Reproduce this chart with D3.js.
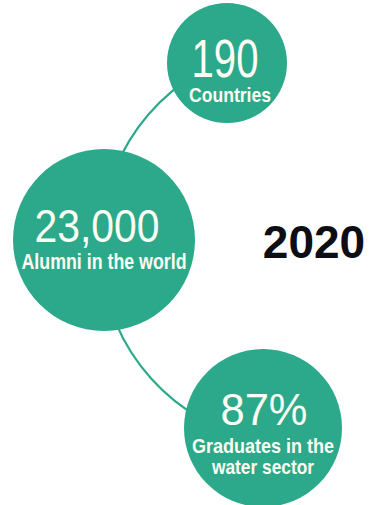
<!DOCTYPE html>
<html>
<head>
<meta charset="utf-8">
<script src="https://cdn.jsdelivr.net/npm/d3@7"></script>
<style>
  html, body { margin: 0; padding: 0; background: #fff; }
  svg { display: block; }
  .num { font-family: 'Liberation Sans', Arial, sans-serif; fill: #fdfdf3; }
  .lbl { font-family: 'Liberation Sans', Arial, sans-serif; font-weight: bold; fill: #fdfdf3; }
  .year { font-family: 'Liberation Sans', Arial, sans-serif; font-weight: bold; fill: #0d0d14; }
</style>
</head>
<body>
<script>
const W = 377, H = 505;

// data
const values = ['190', '23,000', '87%'];
const labels = [['Countries'], ['Alumni in the world'], ['Graduates in the', 'water sector']];
const year = '2020';

// layout of the bubbles (centre, radius, text sizing) - not data
const layout = [
    { x: 227, y: 63, r: 60, numSize: 54, numY: 14, numDx: -2, numLen: 67,
      lblSize: 21, lblY: 39, lblDx: 3, lblLen: [82] },
    { x: 104, y: 240, r: 91, numSize: 47, numY: 2, numDx: -7, numLen: 125,
      lblSize: 22, lblY: 29, lblDx: 0, lblLen: [165] },
    { x: 263, y: 428, r: 79, numSize: 45, numY: -3, numDx: 1, numLen: 87,
      lblSize: 21, lblY: 25, lblDx: 0, lblLen: [142, 102] }
];
const arcCentre = { x: 300, y: 245, r: 200 };
const teal = '#2ba98a';

const svg = d3.select('body').append('svg')
    .attr('width', W)
    .attr('height', H)
    .attr('viewBox', '0 0 ' + W + ' ' + H);

// connector arc running through the bubbles
const ang = d => Math.atan2(d.y - arcCentre.y, d.x - arcCentre.x);
const a0 = ang(layout[0]) + 2 * Math.PI,
    a1 = ang(layout[2]);
const p = d3.path();
p.arc(arcCentre.x, arcCentre.y, arcCentre.r, a0, a1, true);
svg.append('path')
    .attr('d', p.toString())
    .attr('fill', 'none')
    .attr('stroke', teal)
    .attr('stroke-width', 2.2);

const nodes = values.map((v, i) => ({ value: v, label: labels[i], ...layout[i] }));

const g = svg.selectAll('.node')
    .data(nodes)
    .enter().append('g')
    .attr('class', 'node')
    .attr('transform', d => 'translate(' + d.x + ',' + d.y + ')');

g.append('circle')
    .attr('r', d => d.r)
    .attr('fill', teal);

g.append('text')
    .attr('class', 'num')
    .attr('text-anchor', 'middle')
    .attr('x', d => d.numDx)
    .attr('y', d => d.numY)
    .attr('textLength', d => d.numLen)
    .attr('lengthAdjust', 'spacingAndGlyphs')
    .style('font-size', d => d.numSize + 'px')
    .text(d => d.value);

g.each(function (d) {
    const grp = d3.select(this);
    d.label.forEach((line, j) => {
        grp.append('text')
            .attr('class', 'lbl')
            .attr('text-anchor', 'middle')
            .attr('x', d.lblDx)
            .attr('y', d.lblY + j * 21)
            .attr('textLength', d.lblLen[j])
            .attr('lengthAdjust', 'spacingAndGlyphs')
            .style('font-size', d.lblSize + 'px')
            .text(line);
    });
});

svg.append('text')
    .attr('class', 'year')
    .attr('x', 314)
    .attr('y', 258)
    .attr('text-anchor', 'middle')
    .style('font-size', '46px')
    .text(year);
</script>
</body>
</html>
